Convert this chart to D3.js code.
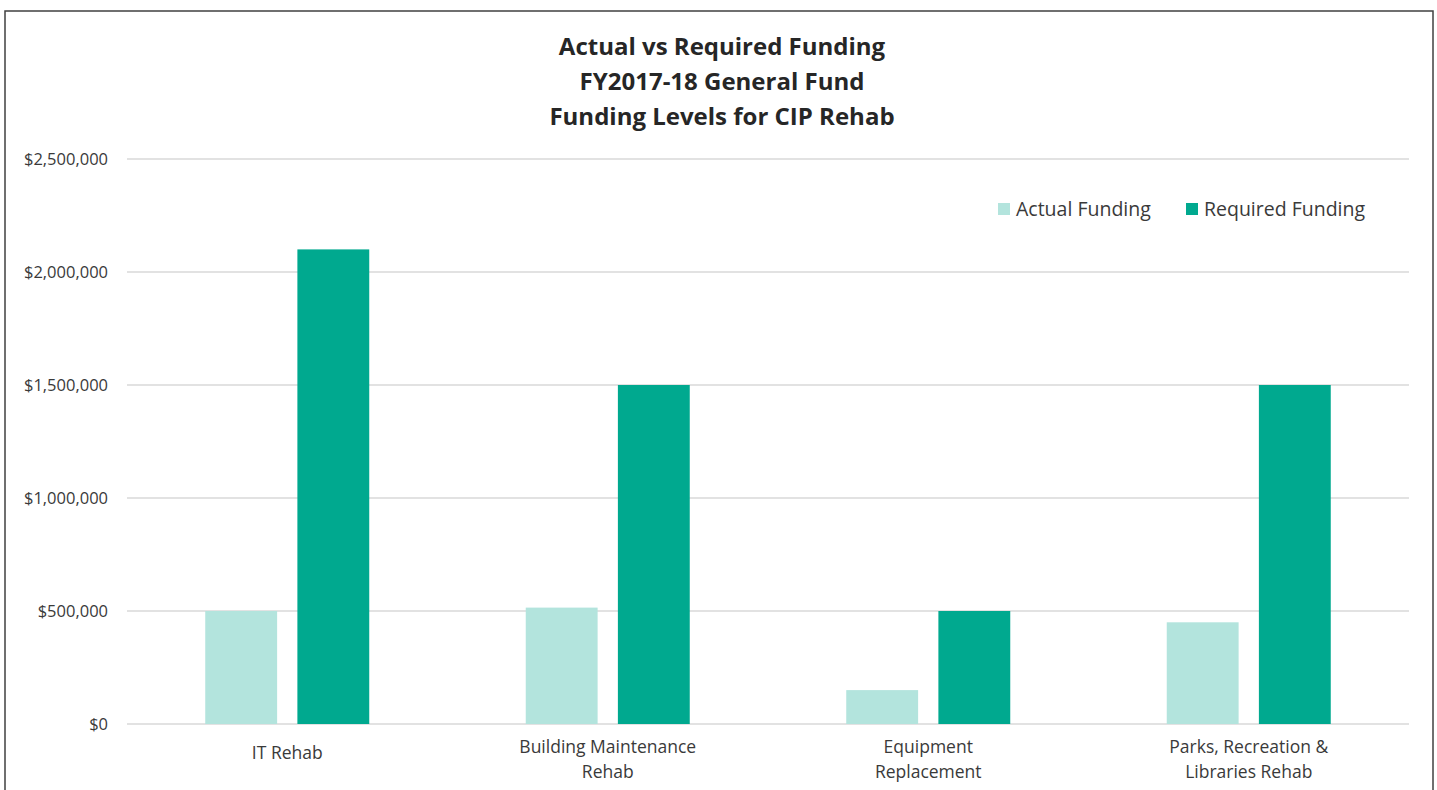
<!DOCTYPE html>
<html>
<head>
  <title>Actual vs Required Funding</title>
  <script src="https://d3js.org/d3.v7.min.js"></script>
  <style>
    body { margin: 0; background: #fff; }
    svg text { font-family: "Open Sans", "Noto Sans", sans-serif; fill: #3a3a3a; }
    .grid line { stroke: #d9d9d9; stroke-width: 1.3; }
  </style>
</head>
<body>
  <div id="chart"></div>
  <script>
    // chart data
    const categories = [
      ["IT Rehab"],
      ["Building Maintenance", "Rehab"],
      ["Equipment", "Replacement"],
      ["Parks, Recreation &", "Libraries Rehab"]
    ];
    const seriesNames = ["Actual Funding", "Required Funding"];
    const actualFunding = [500000, 515000, 150000, 450000];
    const requiredFunding = [2100000, 1500000, 500000, 1500000];
    const yTicks = [0, 500000, 1000000, 1500000, 2000000, 2500000];
    const titleLines = ["Actual vs Required Funding", "FY2017-18 General Fund", "Funding Levels for CIP Rehab"];

    const colors = ["#b3e4dd", "#00a98f"];
    const W = 1437, H = 790;
    const margin = { top: 159, right: 28, bottom: 66, left: 127 };
    const width = W - margin.left - margin.right;
    const height = H - margin.top - margin.bottom;

    const svg = d3.select("#chart").append("svg")
      .attr("width", W)
      .attr("height", H);

    // outer frame
    svg.append("rect")
      .attr("x", 5).attr("y", 11)
      .attr("width", 1428).attr("height", 800)
      .attr("fill", "none")
      .attr("stroke", "#404040")
      .attr("stroke-width", 1.5);

    // title
    svg.append("text")
      .attr("x", 722)
      .attr("y", 55)
      .attr("text-anchor", "middle")
      .style("font-size", "24px")
      .style("font-weight", "bold")
      .style("fill", "#262626")
      .selectAll("tspan")
      .data(titleLines)
      .enter()
      .append("tspan")
      .attr("x", 722)
      .attr("dy", (d, i) => i === 0 ? 0 : 35)
      .text(d => d);

    const g = svg.append("g")
      .attr("transform", "translate(" + margin.left + "," + margin.top + ")");

    const x0 = d3.scaleBand()
      .domain(d3.range(categories.length))
      .range([0, width]);

    const x1 = d3.scaleBand()
      .domain([0, 1])
      .range([x0.bandwidth() / 2 - 82, x0.bandwidth() / 2 + 82])
      .paddingInner(0.22);

    const y = d3.scaleLinear()
      .domain([0, 2500000])
      .range([height, 0]);

    // gridlines
    g.append("g")
      .attr("class", "grid")
      .selectAll("line")
      .data(yTicks)
      .enter()
      .append("line")
      .attr("x1", 0)
      .attr("x2", width)
      .attr("y1", d => y(d))
      .attr("y2", d => y(d));

    // y axis labels
    const fmt = d3.format("$,");
    g.append("g")
      .selectAll("text")
      .data(yTicks)
      .enter()
      .append("text")
      .attr("x", -19)
      .attr("y", d => y(d))
      .attr("dy", "0.35em")
      .attr("text-anchor", "end")
      .style("font-size", "16.5px")
      .text(d => fmt(d));

    // bars
    const series = [actualFunding, requiredFunding];
    series.forEach(function(vals, s) {
      g.append("g")
        .selectAll("rect")
        .data(vals)
        .enter()
        .append("rect")
        .attr("x", (d, i) => x0(i) + x1(s))
        .attr("y", d => y(d))
        .attr("width", x1.bandwidth())
        .attr("height", d => height - y(d))
        .attr("fill", colors[s]);
    });

    // category labels
    const cat = g.append("g")
      .selectAll("text")
      .data(categories)
      .enter()
      .append("text")
      .attr("text-anchor", "middle")
      .style("font-size", "17.5px")
      .attr("transform", (d, i) => "translate(" + (x0(i) + x0.bandwidth() / 2) + "," + (height + (d.length === 1 ? 35 : 29)) + ")");

    cat.selectAll("tspan")
      .data(d => d)
      .enter()
      .append("tspan")
      .attr("x", 0)
      .attr("dy", (d, i) => i === 0 ? 0 : 25)
      .text(d => d);

    // legend
    const legendX = [998, 1186];
    const legend = svg.append("g")
      .selectAll("g")
      .data(seriesNames)
      .enter()
      .append("g")
      .attr("transform", (d, i) => "translate(" + legendX[i] + ",203)");

    legend.append("rect")
      .attr("width", 12)
      .attr("height", 12)
      .attr("fill", (d, i) => colors[i]);

    legend.append("text")
      .attr("x", 18)
      .attr("y", 6)
      .attr("dy", "0.35em")
      .style("font-size", "19.5px")
      .text(d => d);
  </script>
</body>
</html>
